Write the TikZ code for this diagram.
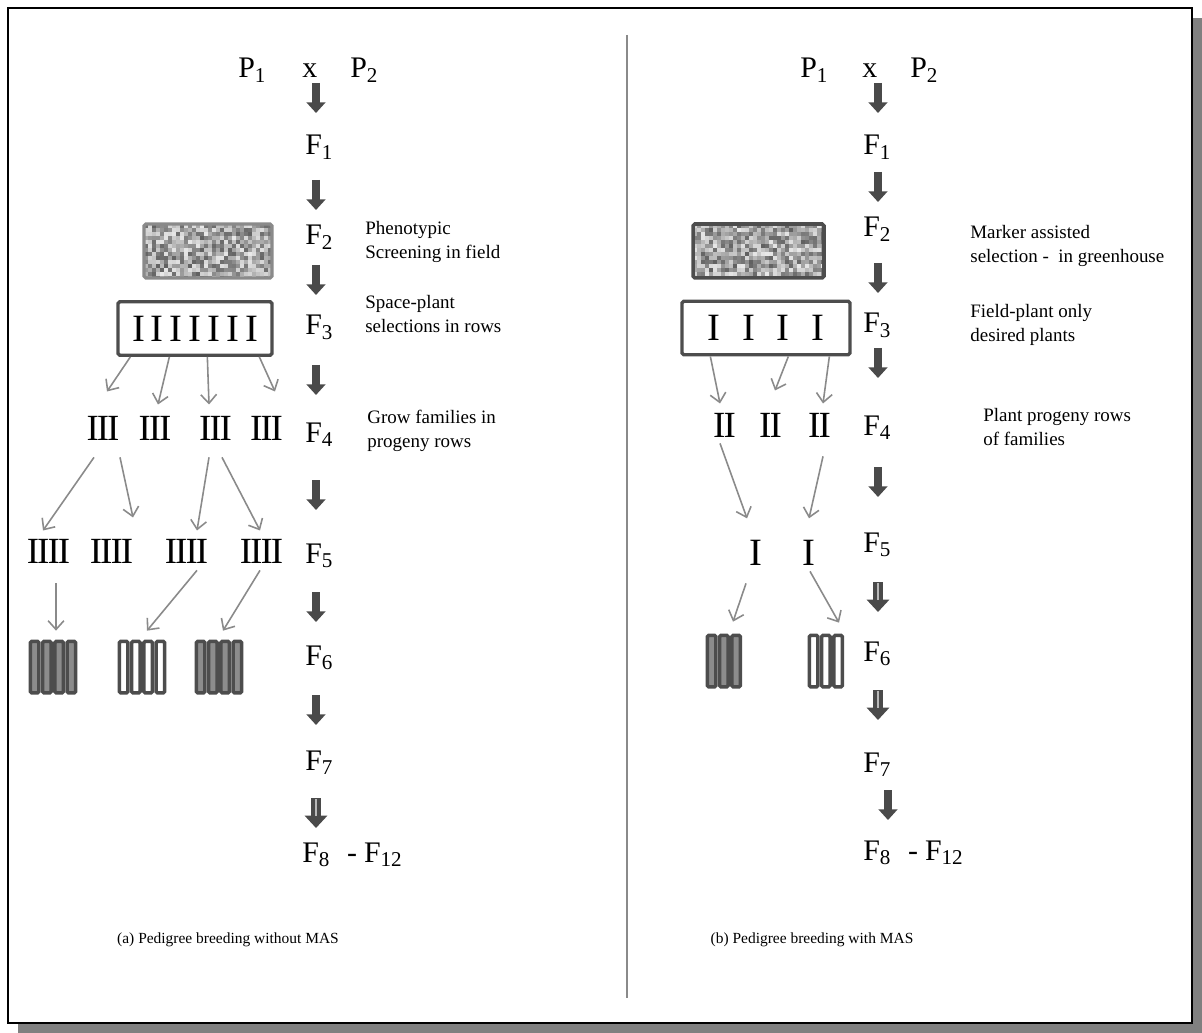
\documentclass[tikz,border=0pt]{standalone}
\usepackage{fontspec}
\setmainfont{Liberation Serif}
\usetikzlibrary{positioning,arrows.meta,calc}
\definecolor{arrowgray}{HTML}{4A4A4A}
\definecolor{linkgray}{HTML}{8A8A8A}
\definecolor{boxgray}{HTML}{4D4D4D}
\definecolor{stripefill}{HTML}{8C8C8C}
\definecolor{shadowgray}{HTML}{808080}

% subscript of a generation label
\newcommand{\gs}[1]{\raisebox{-2.8pt}{\fontsize{12}{12}\selectfont #1}}
% plant rows with touching serifs
\newcommand{\IIrow}{I\kern-1.1pt I}
\newcommand{\IIIrow}{I\kern-1.1pt I\kern-1.1pt I}
\newcommand{\IIIIrow}{I\kern-1.1pt I\kern-1.1pt I\kern-1.1pt I}

\tikzset{
  gen/.style={font=\fontsize{17}{20}\selectfont, inner sep=0pt, anchor=base west},
  note/.style={font=\fontsize{10.8}{13.6}\selectfont, align=left, anchor=west, inner sep=0pt},
  captiontext/.style={font=\fontsize{8.8}{11}\selectfont, inner sep=0pt},
  plants/.style={font=\fontsize{21}{23}\selectfont, inner sep=0pt, anchor=base},
  selbox/.style={draw=boxgray, line width=1.9pt, rounded corners=1pt, inner sep=0pt,
    minimum height=1.07cm, font=\fontsize{22}{24}\selectfont},
  noisy/.style={path picture={
    \foreach \i in {0,...,34}{\foreach \j in {0,...,14}{
      \pgfmathsetmacro{\g}{int(92-54*rnd)}
      \fill[white!\g!black, sharp corners] ($(path picture bounding box.north west)+(\i*4,\j*4)$) rectangle +(4.5,4.5);
    }}}},
  screenbox/.style={noisy, rounded corners=1pt, inner sep=0pt, minimum height=1.08cm},
  plotgrp/.style={inner sep=0pt, minimum height=1.1cm},
  stripebox/.style={draw=boxgray, line width=2pt, rounded corners=0.8pt},
  genarrow/.style={arrowgray, line width=5pt, -{Triangle[length=6pt,width=10.5pt]}},
  genarrowbig/.style={arrowgray, line width=5.6pt, -{Triangle[length=7pt,width=12.5pt]}},
  lightline/.style={gray!55, line width=1.1pt},
  famarrow/.style={linkgray, line width=0.9pt, -{Straight Barb[length=5pt,width=9pt]}},
}

\begin{document}
\begin{tikzpicture}[x=0.02cm, y=-0.02cm]
  \pgfmathsetseed{7}
  \useasboundingbox (0,0) rectangle (1202,1033);

  % frame with shadow
  \fill[shadowgray] (18,18) rectangle (1202,1033);
  \draw[line width=1.6pt, fill=white] (8,8) rectangle (1192,1023);
  \draw[linkgray, line width=1.2pt] (627,35) -- (627,998);

  % ---- (a) without MAS ----
  \node[gen] (lp1) at (238,78) {P\gs{1}};
  \node[gen] (lx)  at (302,78) {x};
  \node[gen] (lp2) at (350,78) {P\gs{2}};
  \node[gen] (lf1) at (305,155) {F\gs{1}};
  \node[gen] (lf2) at (305,245) {F\gs{2}};
  \node[gen] (lf3) at (305,335) {F\gs{3}};
  \node[gen] (lf4) at (305,442) {F\gs{4}};
  \node[gen] (lf5) at (305,563) {F\gs{5}};
  \node[gen] (lf6) at (305,665) {F\gs{6}};
  \node[gen] (lf7) at (305,770) {F\gs{7}};
  \node[gen] (lf8) at (302,862) {F\gs{8}\hspace{10pt}-\hspace{4pt}F\gs{12}};

  \foreach \y in {83,180,265,365,480,592,695}
    \draw[genarrow] (316,\y) -- ++(0,30);
  \draw[genarrowbig] (316,798) -- ++(0,30);
  \draw[lightline] (316,799) -- ++(0,17);

  \node[note] (nphen) at (365,242) {Phenotypic\\Screening in field};
  \node[note] (nspace) at (365,314) {Space-plant\\selections in rows};
  \node[note] (ngrow) at (367,431) {Grow families in\\progeny rows};

  \node[screenbox, draw=linkgray, line width=1.8pt, minimum width=2.56cm] (lscr) at (208,251) {};
  \node[selbox, minimum width=3.08cm] (lsel) at (195,328.5)
    {I\hspace{3.4pt}I\hspace{3.4pt}I\hspace{3.4pt}I\hspace{3.4pt}I\hspace{3.4pt}I\hspace{3.4pt}I};

  \node[plants] (g1) at (103,440) {\IIIrow};
  \node[plants] (g2) at (155,440) {\IIIrow};
  \node[plants] (g3) at (215.5,440) {\IIIrow};
  \node[plants] (g4) at (266.5,440) {\IIIrow};

  \node[plants] (h1) at (48.5,563) {\IIIIrow};
  \node[plants] (h2) at (111.5,563) {\IIIIrow};
  \node[plants] (h3) at (186.5,563) {\IIIIrow};
  \node[plants] (h4) at (261.5,563) {\IIIIrow};

  \node[plotgrp, minimum width=0.98cm] (lp1g) at (53.5,667.5) {};
  \node[plotgrp, minimum width=0.98cm] (lp2g) at (142.5,667.5) {};
  \node[plotgrp, minimum width=0.98cm] (lp3g) at (219.5,667.5) {};
  \foreach \k in {0,...,3}{
    \draw[stripebox, fill=stripefill] ($(lp1g.north west)+(1.75+\k*12.25,1.75)$) rectangle +(8.5,51.5);
    \draw[stripebox, fill=white] ($(lp2g.north west)+(1.75+\k*12.25,1.75)$) rectangle +(8.5,51.5);
    \draw[stripebox, fill=stripefill] ($(lp3g.north west)+(1.75+\k*12.25,1.75)$) rectangle +(8.5,51.5);
  }

  \draw[famarrow] ($(lsel.south west)+(14,0)$) -- ($(g1.north)+(4,-24)$);
  \draw[famarrow] ($(lsel.south west)+(53,0)$) -- ($(g2.north)+(3,-11)$);
  \draw[famarrow] ($(lsel.south west)+(91,0)$) -- ($(g3.north)+(-6.5,-11)$);
  \draw[famarrow] ($(lsel.south west)+(143,0)$) -- ($(g4.north)+(8.5,-24)$);

  \draw[famarrow] ($(g1.south)+(-9,17)$) -- ($(h1.north)+(-5.5,-8)$);
  \draw[famarrow] ($(g1.south)+(17,17)$) -- ($(h2.north)+(21.5,-21)$);
  \draw[famarrow] ($(g3.south)+(-6.5,17)$) -- ($(h3.north)+(10.5,-8)$);
  \draw[famarrow] ($(g3.south)+(6.5,17)$) -- ($(h4.north)+(-1.5,-8)$);

  \draw[famarrow] ($(h1.south)+(7.5,20)$) -- ($(lp1g.north)+(2.5,-9)$);
  \draw[famarrow] ($(h3.south)+(10.5,7)$) -- ($(lp2g.north)+(4.5,-9)$);
  \draw[famarrow] ($(h4.south)+(-1.5,7)$) -- ($(lp3g.north)+(3.5,-9)$);

  \node[captiontext] (capa) at (228,940) {(a) Pedigree breeding without MAS};

  % ---- (b) with MAS ----
  \node[gen] (rp1) at (800,78) {P\gs{1}};
  \node[gen] (rx)  at (862,78) {x};
  \node[gen] (rp2) at (910,78) {P\gs{2}};
  \node[gen] (rf1) at (863,155) {F\gs{1}};
  \node[gen] (rf2) at (863,237) {F\gs{2}};
  \node[gen] (rf3) at (863,333) {F\gs{3}};
  \node[gen] (rf4) at (863,435) {F\gs{4}};
  \node[gen] (rf5) at (863,552) {F\gs{5}};
  \node[gen] (rf6) at (863,661) {F\gs{6}};
  \node[gen] (rf7) at (863,772) {F\gs{7}};
  \node[gen] (rf8) at (863,860) {F\gs{8}\hspace{10pt}-\hspace{4pt}F\gs{12}};

  \foreach \y in {83,172,263,348,467}
    \draw[genarrow] (878,\y) -- ++(0,30);
  \foreach \y in {582,690}{
    \draw[genarrowbig] (878,\y) -- ++(0,30);
    \draw[lightline] (878,\y+1) -- ++(0,17);
  }
  \draw[genarrow] (888,790) -- ++(0,30);

  \node[note] (nmark) at (970,246) {Marker assisted\\selection -\ \ in greenhouse};
  \node[note] (nfield) at (970,325) {Field-plant only\\desired plants};
  \node[note] (nprog) at (983,427) {Plant progeny rows\\of families};

  \node[screenbox, draw=boxgray, line width=2pt, minimum width=2.62cm] (rscr) at (758.5,251) {};
  \node[selbox, minimum width=3.36cm] (rsel) at (766,328)
    {I\hspace{12.5pt}I\hspace{12.5pt}I\hspace{12.5pt}I};

  \node[plants] (k1) at (724.5,437) {\IIrow};
  \node[plants] (k2) at (770.5,437) {\IIrow};
  \node[plants] (k3) at (819.5,437) {\IIrow};

  \node[plants, font=\fontsize{22}{23}\selectfont] (m1) at (756,565) {I};
  \node[plants, font=\fontsize{22}{23}\selectfont] (m2) at (809,565) {I};

  \node[plotgrp, minimum width=0.74cm] (rp1g) at (724.5,661.5) {};
  \node[plotgrp, minimum width=0.74cm] (rp2g) at (826.5,661.5) {};
  \foreach \k in {0,...,2}{
    \draw[stripebox, fill=stripefill] ($(rp1g.north west)+(1.75+\k*12.25,1.75)$) rectangle +(8.5,51.5);
    \draw[stripebox, fill=white] ($(rp2g.north west)+(1.75+\k*12.25,1.75)$) rectangle +(8.5,51.5);
  }

  \draw[famarrow] ($(rsel.south west)+(30,0)$) -- ($(k1.north)+(-4.5,-9)$);
  \draw[famarrow] ($(rsel.south west)+(108,0)$) -- ($(k2.north)+(4.5,-22)$);
  \draw[famarrow] ($(rsel.south west)+(149,0)$) -- ($(k3.north)+(3.5,-9)$);

  \draw[famarrow] ($(k1.south)+(-4.5,6)$) -- ($(m1.north)+(-9,-21)$);
  \draw[famarrow] ($(k3.south)+(3.5,19)$) -- ($(m2.north)+(0,-21)$);

  \draw[famarrow] ($(m1.south)+(-10,18)$) -- ($(rp1g.north)+(8.5,-12)$);
  \draw[famarrow] ($(m2.south)+(1,6)$) -- ($(rp2g.north)+(12.5,-11)$);

  \node[captiontext] (capb) at (812,940) {(b) Pedigree breeding with MAS};
\end{tikzpicture}
\end{document}
